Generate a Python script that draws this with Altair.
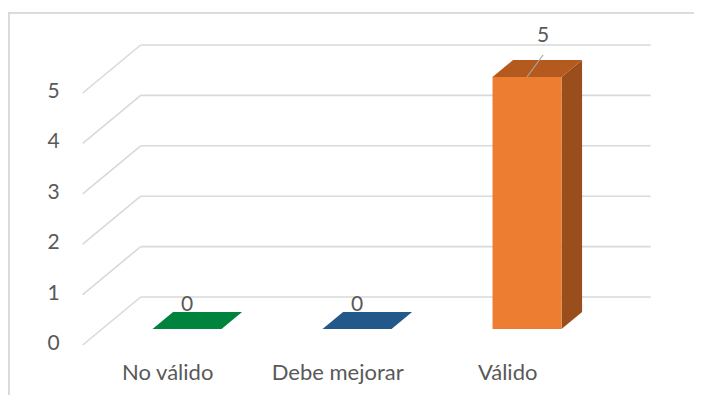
import altair as alt
import pandas as pd

# ---- data ----
categories = ["No válido", "Debe mejorar", "Válido"]
values = [0, 0, 5]
y_ticks = [0, 1, 2, 3, 4, 5]

# ---- style constants (3D oblique projection) ----
KX = 58 / 170      # x shift (category units) for full wall depth
KY = 48 / 50.4     # y shift (value units) for full wall depth
T1 = 16 / 48       # bar front depth
T2 = 33 / 48       # bar back depth
HW = 0.203         # bar half width (category units)
front_colors = ["#00A04A", "#2E75B6", "#ED7D31"]
top_colors = ["#00843D", "#22598A", "#B55A1F"]
side_colors = ["#006B31", "#1B4870", "#9A4E1C"]
GRID = "#d9d9d9"
TEXT = "#595959"
FONT = "Lato"

W, H = 686, 383
xs = alt.Scale(domain=[-0.9394, 3.0959], nice=False, zero=False)
ys = alt.Scale(domain=[-0.992, 6.607], nice=False, zero=False)

bars = pd.DataFrame({"cat": categories, "idx": list(range(len(categories))), "value": values})
faces = bars.merge(pd.DataFrame({"t": [T1, T2]}), how="cross")
faces["xl"] = faces["idx"] - HW + KX * faces["t"]
faces["xr"] = faces["idx"] + HW + KX * faces["t"]
faces["ybot"] = KY * faces["t"]
faces["ytop"] = faces["value"] + KY * faces["t"]
front = faces[faces["t"] == T1].copy()
front["xc"] = front["idx"] + KX * T1
front["lx"] = front["xc"] + 16 / 170
front["ly"] = front["ytop"] + 22 / 50.4

ticks = pd.DataFrame({"v": y_ticks})
ticks["x0"] = -0.5
ticks["x1"] = -0.5 + KX
ticks["x2"] = 2.5 + KX
ticks["yb"] = ticks["v"] + KY

cats = pd.DataFrame({"cat": categories, "idx": list(range(len(categories))), "zero": 0})

def cscale(rng):
    return alt.Color("cat:N", scale=alt.Scale(domain=categories, range=rng), legend=None)

diag = alt.Chart(ticks).mark_rule(color=GRID, strokeWidth=1.6).encode(
    x=alt.X("x0:Q", scale=xs, axis=None), x2="x1:Q",
    y=alt.Y("v:Q", scale=ys, axis=None), y2="yb:Q")
back = alt.Chart(ticks).mark_rule(color=GRID, strokeWidth=1.6).encode(
    x=alt.X("x1:Q", scale=xs, axis=None), x2="x2:Q",
    y=alt.Y("yb:Q", scale=ys, axis=None), y2="yb:Q")

side = alt.Chart(faces).mark_area(orient="vertical").encode(
    x=alt.X("xr:Q", scale=xs, axis=None),
    y=alt.Y("ybot:Q", scale=ys, axis=None), y2="ytop:Q",
    color=cscale(side_colors))
top = alt.Chart(faces).mark_area(orient="horizontal").encode(
    y=alt.Y("ytop:Q", scale=ys, axis=None),
    x=alt.X("xl:Q", scale=xs, axis=None), x2="xr:Q",
    color=cscale(top_colors))
frontf = alt.Chart(front).mark_rect().encode(
    x=alt.X("xl:Q", scale=xs, axis=None), x2="xr:Q",
    y=alt.Y("ybot:Q", scale=ys, axis=None), y2="ytop:Q",
    color=cscale(front_colors))

zero_lbl = alt.Chart(front).transform_filter("datum.value == 0").mark_text(
    font=FONT, fontSize=21, color=TEXT, baseline="alphabetic", dy=-18).encode(
    x=alt.X("xc:Q", scale=xs, axis=None), y=alt.Y("ytop:Q", scale=ys, axis=None),
    text="value:Q")
leader = alt.Chart(front).transform_filter("datum.value > 0").mark_rule(
    color="#a6a6a6", strokeWidth=1.2).encode(
    x=alt.X("xc:Q", scale=xs, axis=None), x2="lx:Q",
    y=alt.Y("ytop:Q", scale=ys, axis=None), y2="ly:Q")
pos_lbl = alt.Chart(front).transform_filter("datum.value > 0").mark_text(
    font=FONT, fontSize=21, color=TEXT, baseline="alphabetic", dy=-13).encode(
    x=alt.X("lx:Q", scale=xs, axis=None), y=alt.Y("ly:Q", scale=ys, axis=None),
    text="value:Q")

ylab = alt.Chart(ticks).mark_text(
    font=FONT, fontSize=21, color=TEXT, align="center", baseline="middle", dx=-29, dy=-1).encode(
    x=alt.X("x0:Q", scale=xs, axis=None), y=alt.Y("v:Q", scale=ys, axis=None),
    text="v:Q")
xlab = alt.Chart(cats).mark_text(
    font=FONT, fontSize=22, color=TEXT, align="center", baseline="middle", dy=28).encode(
    x=alt.X("idx:Q", scale=xs, axis=None), y=alt.Y("zero:Q", scale=ys, axis=None),
    text="cat:N")

border_l = alt.Chart(cats).mark_rule(color=GRID, strokeWidth=1.5).encode(
    x=alt.value(0.75), y=alt.value(0), y2=alt.value(H))
border_t = alt.Chart(cats).mark_rule(color=GRID, strokeWidth=1.5).encode(
    x=alt.value(0), x2=alt.value(W), y=alt.value(0.75))

chart = alt.layer(
    border_l, border_t, diag, back, side, top, frontf, zero_lbl, leader, pos_lbl, ylab, xlab
).resolve_scale(color="independent").properties(
    width=W, height=H,
    autosize=alt.AutoSizeParams(type="none"),
    padding={"left": 0, "top": 4, "right": 0, "bottom": 0},
    background="white",
).configure_view(stroke=None)

chart.save("out.html", embed_options={"renderer": "svg", "actions": False})
